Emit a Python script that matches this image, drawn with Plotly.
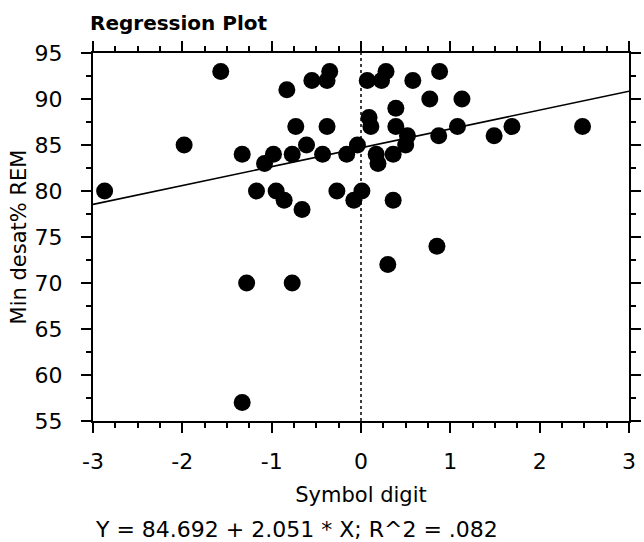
import plotly.graph_objects as go

# Symbol digit score (z) vs minimum REM desaturation (%)
symbol_digit = [-2.87, -1.98, -1.57, -1.33, -1.28, -1.33, -1.17, -1.08, -0.98, -0.95,
                -0.86, -0.83, -0.77, -0.73, -0.77, -0.66, -0.61, -0.55, -0.43, -0.38,
                -0.38, -0.35, -0.27, -0.16, -0.08, -0.04, 0.01, 0.07, 0.09, 0.11,
                0.17, 0.19, 0.23, 0.28, 0.30, 0.36, 0.36, 0.39, 0.39, 0.52,
                0.50, 0.58, 0.77, 0.88, 0.87, 0.85, 1.13, 1.08, 1.49, 1.69, 2.48]
min_desat_rem = [80, 85, 93, 84, 70, 57, 80, 83, 84, 80,
                 79, 91, 84, 87, 70, 78, 85, 92, 84, 87,
                 92, 93, 80, 84, 79, 85, 80, 92, 88, 87,
                 84, 83, 92, 93, 72, 79, 84, 89, 87, 86,
                 85, 92, 90, 93, 86, 74, 90, 87, 86, 87, 87]

# Fitted regression
intercept = 84.692
slope = 2.051
r_squared = ".082"

x_ticks = [-3, -2, -1, 0, 1, 2, 3]
y_ticks = [55, 60, 65, 70, 75, 80, 85, 90, 95]

FONT = "DejaVu Sans"

fit_x = [-3, 3]
fit_y = [intercept + slope * v for v in fit_x]

fig = go.Figure()
fig.add_trace(go.Scatter(
    x=fit_x, y=fit_y, mode="lines",
    line=dict(color="black", width=1.6),
    hoverinfo="skip", showlegend=False,
))
fig.add_trace(go.Scatter(
    x=symbol_digit, y=min_desat_rem, mode="markers",
    marker=dict(color="black", size=17, line=dict(width=0)),
    showlegend=False,
))

# dotted reference line at x = 0
fig.add_shape(type="line", xref="x", yref="paper", x0=0, x1=0, y0=0, y1=1,
              line=dict(color="black", width=1.5, dash="dot"), layer="below")

axis_common = dict(
    showgrid=False, zeroline=False,
    showline=True, linecolor="black", linewidth=2, mirror="ticks",
    ticks="outside", ticklen=10, tickwidth=2, tickcolor="black",
    tickfont=dict(family=FONT, size=22, color="black"),
)

fig.update_xaxes(
    range=[-3, 3], tickvals=x_ticks, ticktext=[str(v) for v in x_ticks],
    minor=dict(dtick=0.25, ticks="outside", ticklen=5, tickwidth=1.5,
               tickcolor="black", showgrid=False),
    ticklabelstandoff=10,
    title=dict(text="Symbol digit", font=dict(family=FONT, size=21, color="black"),
               standoff=14),
    **axis_common,
)
fig.update_yaxes(
    range=[55, 95], tickvals=y_ticks, ticktext=[str(v) for v in y_ticks],
    minor=dict(dtick=2.5, ticks="outside", ticklen=5, tickwidth=1.5,
               tickcolor="black", showgrid=False),
    ticklabelstandoff=14,
    title=dict(text="Min desat% REM", font=dict(family=FONT, size=21, color="black"),
               standoff=2),
    **axis_common,
)

fig.add_annotation(
    text=f"Y = {intercept} + {slope} * X; R^2 = {r_squared}",
    xref="paper", yref="paper", x=0.0, y=-0.296,
    xanchor="left", yanchor="middle", showarrow=False,
    font=dict(family=FONT, size=22, color="black"),
)

fig.update_layout(
    width=644, height=542,
    margin=dict(l=93, r=3, t=53, b=121),
    paper_bgcolor="white", plot_bgcolor="white",
    title=dict(text="<b>Regression Plot</b>", x=90 / 644, xanchor="left",
               y=1 - 23 / 542, yanchor="middle",
               font=dict(family=FONT, size=20, color="black")),
)

fig.write_html("out.html")
